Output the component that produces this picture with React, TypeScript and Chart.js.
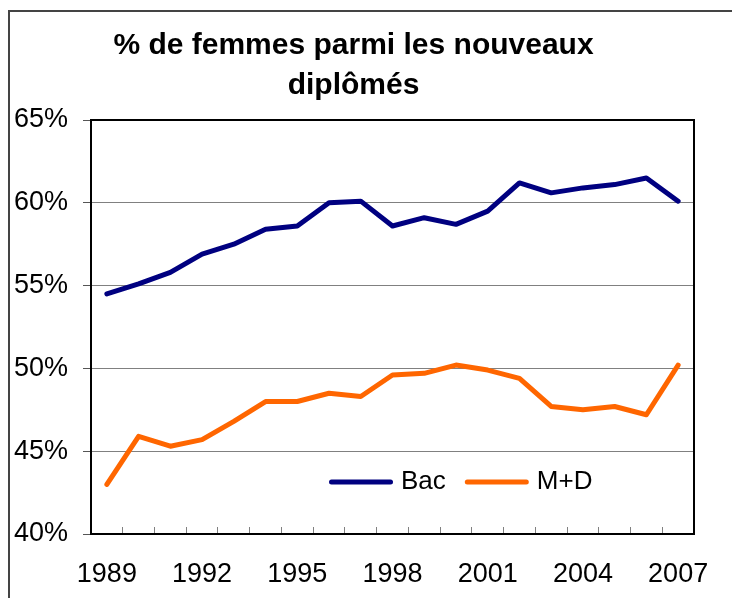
import React, { useEffect, useRef } from 'react';
import { Chart, registerables } from 'chart.js';

Chart.register(...registerables);

const years = ['1989', '1990', '1991', '1992', '1993', '1994', '1995', '1996', '1997', '1998', '1999', '2000', '2001', '2002', '2003', '2004', '2005', '2006', '2007'];
const xTickLabels = ['1989', '1992', '1995', '1998', '2001', '2004', '2007'];
const yTickValues = [40, 45, 50, 55, 60, 65];
const bacValues = [54.5, 55.1, 55.8, 56.9, 57.5, 58.4, 58.6, 60.0, 60.1, 58.6, 59.1, 58.7, 59.5, 61.2, 60.6, 60.9, 61.1, 61.5, 60.1];
const mdValues = [43.0, 45.9, 45.3, 45.7, 46.8, 48.0, 48.0, 48.5, 48.3, 49.6, 49.7, 50.2, 49.9, 49.4, 47.7, 47.5, 47.7, 47.2, 50.2];
const seriesLabels = ['Bac', 'M+D'];
const seriesColors = ['#000080', '#FF6600'];
const titleLines = ['% de femmes parmi les nouveaux', 'diplômés'];

const FONT = '"Liberation Sans", Arial, Helvetica, sans-serif';

const plotFrame = {
  id: 'plotFrame',
  afterDatasetsDraw(chart: any) {
    const { ctx, chartArea } = chart;
    const { left, top, right, bottom } = chartArea;
    ctx.save();
    ctx.strokeStyle = '#000';
    ctx.lineWidth = 2;
    ctx.beginPath();
    ctx.moveTo(left - 1, top);
    ctx.lineTo(right, top);
    ctx.lineTo(right, bottom + 1);
    ctx.stroke();
    ctx.restore();
  },
};

const insideLegend = {
  id: 'insideLegend',
  afterDraw(chart: any) {
    const { ctx, chartArea } = chart;
    ctx.save();
    ctx.font = `26px ${FONT}`;
    ctx.textBaseline = 'middle';
    ctx.textAlign = 'left';
    let x = chartArea.left + 238;
    const y = chartArea.bottom - 52;
    chart.data.datasets.forEach((ds: any) => {
      ctx.strokeStyle = ds.borderColor;
      ctx.lineWidth = 5;
      ctx.lineCap = 'round';
      ctx.beginPath();
      ctx.moveTo(x + 2.5, y);
      ctx.lineTo(x + 61.5, y);
      ctx.stroke();
      x += 72;
      ctx.fillStyle = '#000';
      ctx.fillText(ds.label, x, y);
      x += ctx.measureText(ds.label).width + 19;
    });
    ctx.restore();
  },
};

export default function App() {
  const canvasRef = useRef<HTMLCanvasElement | null>(null);

  useEffect(() => {
    if (!canvasRef.current) return;
    const chart = new Chart(canvasRef.current, {
      type: 'line',
      data: {
        labels: years,
        datasets: [
          {
            label: seriesLabels[0],
            data: bacValues,
            borderColor: seriesColors[0],
            backgroundColor: seriesColors[0],
            borderWidth: 5,
            pointRadius: 0,
            tension: 0,
            borderCapStyle: 'round',
            borderJoinStyle: 'round',
          },
          {
            label: seriesLabels[1],
            data: mdValues,
            borderColor: seriesColors[1],
            backgroundColor: seriesColors[1],
            borderWidth: 5,
            pointRadius: 0,
            tension: 0,
            borderCapStyle: 'round',
            borderJoinStyle: 'round',
          },
        ],
      },
      options: {
        responsive: false,
        animation: false,
        events: [],
        layout: { padding: { left: 3, right: 16, top: 0, bottom: 0 } },
        plugins: {
          legend: { display: false },
          tooltip: { enabled: false },
          title: {
            display: true,
            text: titleLines,
            color: '#000',
            font: { family: FONT, size: 30, weight: 'bold', lineHeight: '40px' },
            padding: { top: 14, bottom: 14 },
          },
        },
        scales: {
          x: {
            offset: true,
            grid: {
              offset: true,
              drawOnChartArea: false,
              drawTicks: true,
              tickLength: -7,
              tickColor: '#808080',
              tickWidth: 1,
            },
            border: { display: true, color: '#000', width: 2 },
            ticks: {
              autoSkip: false,
              maxRotation: 0,
              minRotation: 0,
              padding: 31,
              color: '#000',
              font: { family: FONT, size: 27 },
              callback: (_v: any, i: number) => (xTickLabels.includes(years[i]) ? years[i] : ''),
            },
            afterFit: (scale: any) => {
              scale.height = 64;
              scale.paddingLeft = 0;
              scale.paddingRight = 0;
            },
          },
          y: {
            min: yTickValues[0],
            max: yTickValues[yTickValues.length - 1],
            afterBuildTicks: (scale: any) => {
              scale.ticks = yTickValues.map((v) => ({ value: v }));
            },
            grid: { color: '#808080', lineWidth: 1, tickLength: 8, tickColor: '#555' },
            border: { display: true, color: '#000', width: 2 },
            ticks: {
              padding: 15,
              color: '#000',
              font: { family: FONT, size: 27 },
              callback: (v: any) => `${v}%`,
            },
            afterFit: (scale: any) => {
              scale.width = 78;
            },
          },
        },
      },
      plugins: [plotFrame, insideLegend],
    } as any);
    return () => chart.destroy();
  }, []);

  return (
    <div
      style={{
        position: 'fixed',
        left: 8,
        top: 10,
        width: 724,
        height: 588,
        boxSizing: 'border-box',
        borderTop: '2px solid #444',
        borderLeft: '2px solid #444',
        background: '#fff',
      }}
    >
      <canvas ref={canvasRef} width={700} height={586} style={{ display: 'block' }} />
    </div>
  );
}
